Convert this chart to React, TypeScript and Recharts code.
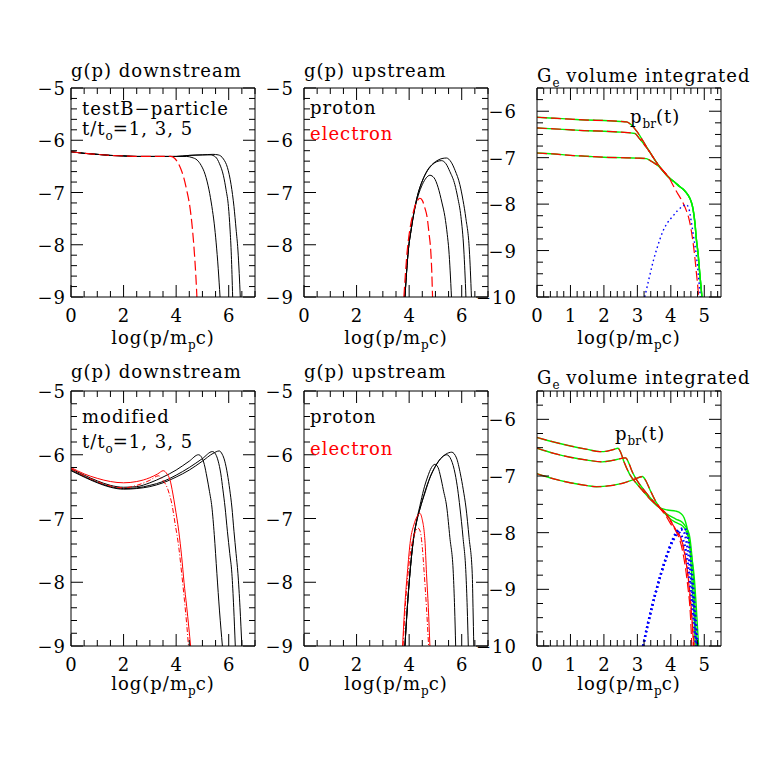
import React from 'react';
import { LineChart, Line, XAxis, YAxis } from 'recharts';

type P = [number, number];

// ---- tick values ----
const gTicksX = [0, 0.5, 1, 1.5, 2, 2.5, 3, 3.5, 4, 4.5, 5, 5.5, 6, 6.5, 7];
const gMajorX = [0, 2, 4, 6];
const gTicksY = [-9, -8.8, -8.6, -8.4, -8.2, -8, -7.8, -7.6, -7.4, -7.2, -7, -6.8, -6.6, -6.4, -6.2, -6, -5.8, -5.6, -5.4, -5.2, -5];
const gMajorY = [-9, -8, -7, -6, -5];
const eTicksX = [0, 0.2, 0.4, 0.6, 0.8, 1, 1.2, 1.4, 1.6, 1.8, 2, 2.2, 2.4, 2.6, 2.8, 3, 3.2, 3.4, 3.6, 3.8, 4, 4.2, 4.4, 4.6, 4.8, 5, 5.2, 5.4];
const eMajorX = [0, 1, 2, 3, 4, 5];
const eTicksY = [-10, -9.75, -9.5, -9.25, -9, -8.75, -8.5, -8.25, -8, -7.75, -7.5, -7.25, -7, -6.75, -6.5, -6.25, -6, -5.75, -5.5];
const eMajorY = [-10, -9, -8, -7, -6];

// ---- test-particle, downstream g(p) ----
const tpDownP1: P[] = [[0, -6.22], [0.5, -6.25], [1, -6.27], [1.5, -6.29], [2, -6.3], [2.5, -6.31], [3, -6.31], [3.5, -6.31], [4, -6.31], [4.4, -6.31], [4.6, -6.33], [4.8, -6.38], [4.95, -6.48], [5.1, -6.65], [5.25, -6.95], [5.36, -7.27], [5.45, -7.6], [5.52, -7.95], [5.6, -8.45], [5.67, -9.0]];
const tpDownP3: P[] = [[0, -6.22], [0.5, -6.25], [1, -6.27], [1.5, -6.29], [2, -6.3], [2.5, -6.31], [3, -6.31], [3.5, -6.31], [4, -6.31], [4.5, -6.29], [5, -6.28], [5.3, -6.28], [5.5, -6.32], [5.65, -6.45], [5.8, -6.68], [5.9, -6.95], [5.99, -7.27], [6.05, -7.7], [6.1, -8.2], [6.15, -9.0]];
const tpDownP5: P[] = [[0, -6.22], [0.5, -6.25], [1, -6.27], [1.5, -6.29], [2, -6.3], [2.5, -6.31], [3, -6.31], [3.5, -6.31], [4, -6.31], [4.5, -6.29], [5, -6.28], [5.4, -6.27], [5.6, -6.28], [5.8, -6.36], [5.95, -6.52], [6.09, -6.85], [6.2, -7.27], [6.28, -7.7], [6.35, -8.1], [6.4, -8.55], [6.44, -9.0]];
const tpDownE: P[] = [[0, -6.22], [0.5, -6.25], [1, -6.27], [1.5, -6.29], [2, -6.3], [2.5, -6.31], [3, -6.31], [3.5, -6.31], [3.8, -6.31], [3.95, -6.35], [4.08, -6.44], [4.18, -6.55], [4.27, -6.68], [4.4, -6.95], [4.53, -7.3], [4.62, -7.7], [4.7, -8.2], [4.75, -8.6], [4.79, -9.0]];

// ---- test-particle, upstream g(p) ----
const tpUpP1: P[] = [[3.84, -9], [3.97, -8.1], [4.08, -7.7], [4.2, -7.35], [4.35, -7.05], [4.5, -6.85], [4.65, -6.72], [4.79, -6.67], [4.95, -6.72], [5.1, -6.9], [5.25, -7.2], [5.36, -7.46], [5.45, -7.8], [5.51, -8.1], [5.56, -8.5], [5.61, -9]];
const tpUpP3: P[] = [[3.84, -9], [3.97, -8.1], [4.08, -7.7], [4.2, -7.33], [4.35, -7.0], [4.5, -6.78], [4.7, -6.58], [4.9, -6.46], [5.05, -6.41], [5.23, -6.39], [5.4, -6.45], [5.55, -6.6], [5.74, -6.85], [5.85, -7.1], [5.97, -7.46], [6.08, -8.1], [6.12, -8.5], [6.16, -9]];
const tpUpP5: P[] = [[3.84, -9], [3.97, -8.1], [4.08, -7.7], [4.2, -7.33], [4.35, -7.0], [4.5, -6.78], [4.7, -6.57], [4.9, -6.45], [5.1, -6.38], [5.25, -6.35], [5.42, -6.34], [5.6, -6.42], [5.75, -6.58], [5.93, -6.85], [6.05, -7.15], [6.16, -7.5], [6.29, -8.1], [6.33, -8.5], [6.37, -9]];
const tpUpE: P[] = [[3.8, -9], [3.93, -8.1], [4.03, -7.7], [4.12, -7.46], [4.25, -7.22], [4.35, -7.13], [4.41, -7.11], [4.5, -7.15], [4.6, -7.3], [4.68, -7.46], [4.76, -7.8], [4.82, -8.1], [4.86, -8.5], [4.89, -9]];

// ---- test-particle, volume integrated G_e ----
const tpGeA: P[] = [[0, -6.13], [0.5, -6.15], [1, -6.17], [1.5, -6.19], [2, -6.2], [2.5, -6.22], [2.68, -6.23], [2.8, -6.28], [2.98, -6.43], [3.27, -6.76], [3.66, -7.19], [3.96, -7.44], [4.1, -7.52], [4.26, -7.62], [4.4, -7.7], [4.51, -7.8], [4.6, -7.93], [4.66, -8.09], [4.72, -8.4], [4.76, -8.73], [4.82, -9.1], [4.86, -9.45], [4.93, -10]];
const tpGeB: P[] = [[0, -6.36], [0.5, -6.38], [1, -6.4], [1.5, -6.42], [2, -6.43], [2.5, -6.45], [2.93, -6.48], [3.05, -6.58], [3.27, -6.78], [3.66, -7.19], [3.96, -7.44], [4.1, -7.52], [4.26, -7.62], [4.4, -7.7], [4.51, -7.8], [4.6, -7.93], [4.66, -8.09], [4.72, -8.4], [4.76, -8.73], [4.82, -9.1], [4.86, -9.45], [4.93, -10]];
const tpGeC: P[] = [[0, -6.9], [0.5, -6.92], [1, -6.95], [1.5, -6.97], [2, -6.99], [2.5, -7.0], [3, -7.01], [3.27, -7.02], [3.4, -7.07], [3.55, -7.14], [3.66, -7.2], [3.96, -7.44], [4.1, -7.52], [4.26, -7.62], [4.4, -7.7], [4.51, -7.8], [4.6, -7.93], [4.66, -8.09], [4.72, -8.4], [4.76, -8.73], [4.82, -9.1], [4.86, -9.45], [4.93, -10]];
const tpGeRedTail: P[] = [[3.96, -7.44], [4.07, -7.6], [4.17, -7.73], [4.27, -7.85], [4.37, -7.98], [4.47, -8.15], [4.56, -8.37], [4.64, -8.7], [4.71, -9.09], [4.76, -9.45], [4.81, -9.81], [4.83, -10]];
const tpGeRedA: P[] = [[0, -6.13], [0.5, -6.15], [1, -6.17], [1.5, -6.19], [2, -6.2], [2.5, -6.22], [2.68, -6.23], [2.8, -6.28], [2.98, -6.43], [3.27, -6.76], [3.66, -7.19], [3.96, -7.44]];
const tpGeRedB: P[] = [[0, -6.36], [0.5, -6.38], [1, -6.4], [1.5, -6.42], [2, -6.43], [2.5, -6.45], [2.93, -6.48], [3.05, -6.58], [3.27, -6.78], [3.66, -7.19], [3.96, -7.44]];
const tpGeRedC: P[] = [[0, -6.9], [0.5, -6.92], [1, -6.95], [1.5, -6.97], [2, -6.99], [2.5, -7.0], [3, -7.01], [3.27, -7.02], [3.4, -7.07], [3.55, -7.14], [3.66, -7.2], [3.96, -7.44]];
const tpGeBlue: P[] = [[3.22, -10], [3.35, -9.6], [3.47, -9.24], [3.6, -8.92], [3.76, -8.59], [3.9, -8.4], [4.05, -8.27], [4.2, -8.14], [4.35, -8.05], [4.46, -8.01], [4.54, -8.1], [4.61, -8.37], [4.68, -8.7], [4.76, -9.09], [4.82, -9.5], [4.88, -10]];

// ---- modified, downstream g(p) ----
const mdDownP1: P[] = [[0, -6.22], [0.5, -6.32], [1, -6.41], [1.5, -6.48], [2, -6.51], [2.5, -6.5], [3, -6.44], [3.5, -6.35], [4, -6.24], [4.5, -6.1], [4.85, -6.0], [4.97, -6.04], [5.07, -6.15], [5.17, -6.35], [5.27, -6.58], [5.36, -6.82], [5.45, -7.25], [5.55, -7.86], [5.65, -8.45], [5.76, -9.0]];
const mdDownP3: P[] = [[0, -6.24], [0.5, -6.34], [1, -6.43], [1.5, -6.5], [2, -6.53], [2.5, -6.52], [3, -6.48], [3.5, -6.42], [4, -6.32], [4.5, -6.2], [5, -6.06], [5.38, -5.95], [5.5, -5.99], [5.6, -6.1], [5.7, -6.3], [5.78, -6.55], [5.86, -6.82], [5.95, -7.2], [6.04, -7.55], [6.12, -7.86], [6.19, -8.4], [6.25, -9.0]];
const mdDownP5: P[] = [[0, -6.25], [0.5, -6.35], [1, -6.44], [1.5, -6.51], [2, -6.54], [2.5, -6.53], [3, -6.5], [3.5, -6.44], [4, -6.35], [4.5, -6.24], [5, -6.1], [5.4, -5.98], [5.64, -5.94], [5.75, -5.99], [5.85, -6.1], [5.95, -6.3], [6.04, -6.55], [6.12, -6.82], [6.2, -7.2], [6.28, -7.55], [6.35, -7.86], [6.43, -8.4], [6.5, -9.0]];
const mdDownE: P[] = [[0, -6.2], [0.5, -6.3], [1, -6.37], [1.5, -6.42], [2, -6.44], [2.5, -6.42], [3, -6.36], [3.3, -6.3], [3.51, -6.25], [3.65, -6.3], [3.77, -6.4], [3.87, -6.6], [3.96, -6.82], [4.1, -7.2], [4.21, -7.6], [4.3, -8.0], [4.4, -8.38], [4.48, -8.7], [4.55, -9.0]];
const mdDownE2: P[] = [[0, -6.22], [0.5, -6.33], [1, -6.42], [1.5, -6.49], [2, -6.52], [2.5, -6.48], [3, -6.4], [3.33, -6.33], [3.5, -6.4], [3.69, -6.55], [3.85, -6.8], [3.96, -7.08], [4.1, -7.45], [4.21, -7.86], [4.32, -8.3], [4.4, -8.65], [4.47, -9.0]];

// ---- modified, upstream g(p) ----
const mdUpP1: P[] = [[3.84, -9], [3.93, -8.4], [4.03, -7.86], [4.16, -7.34], [4.3, -7.0], [4.41, -6.8], [4.55, -6.55], [4.7, -6.35], [4.85, -6.2], [4.98, -6.15], [5.1, -6.2], [5.2, -6.35], [5.3, -6.55], [5.43, -6.82], [5.55, -7.3], [5.68, -7.86], [5.73, -8.4], [5.77, -9]];
const mdUpP3: P[] = [[3.84, -9], [3.93, -8.4], [4.03, -7.86], [4.16, -7.34], [4.3, -7.02], [4.41, -6.85], [4.6, -6.6], [4.8, -6.35], [5, -6.18], [5.2, -6.06], [5.43, -6.0], [5.6, -6.08], [5.75, -6.3], [5.85, -6.55], [5.93, -6.82], [6.05, -7.3], [6.16, -7.86], [6.21, -8.4], [6.25, -9]];
const mdUpP5: P[] = [[3.84, -9], [3.93, -8.4], [4.03, -7.86], [4.16, -7.34], [4.3, -7.02], [4.41, -6.85], [4.6, -6.58], [4.8, -6.35], [5, -6.18], [5.2, -6.06], [5.4, -5.99], [5.62, -5.96], [5.8, -6.05], [5.95, -6.3], [6.06, -6.55], [6.16, -6.82], [6.28, -7.3], [6.4, -7.86], [6.43, -8.4], [6.46, -9]];
const mdUpE: P[] = [[3.75, -9], [3.83, -8.4], [3.93, -7.86], [4.05, -7.34], [4.18, -7.1], [4.3, -6.97], [4.41, -6.92], [4.5, -7.02], [4.57, -7.2], [4.6, -7.34], [4.66, -7.86], [4.73, -8.4], [4.79, -9]];
const mdUpE2: P[] = [[3.77, -9], [3.85, -8.4], [3.95, -7.9], [4.08, -7.45], [4.2, -7.25], [4.33, -7.15], [4.42, -7.2], [4.5, -7.45], [4.58, -7.9], [4.66, -8.4], [4.74, -9]];

// ---- modified, volume integrated G_e ----
const mdGeA: P[] = [[0, -6.32], [0.5, -6.4], [1, -6.47], [1.5, -6.53], [1.88, -6.57], [2.1, -6.56], [2.3, -6.53], [2.42, -6.51], [2.5, -6.58], [2.6, -6.75], [2.77, -6.97], [3, -7.15], [3.16, -7.26], [3.4, -7.42], [3.66, -7.56], [3.9, -7.6], [4.15, -7.62], [4.3, -7.66], [4.4, -7.74], [4.48, -7.9], [4.55, -8.15], [4.6, -8.5], [4.65, -9.03], [4.7, -9.5], [4.73, -10]];
const mdGeB: P[] = [[0, -6.51], [0.5, -6.6], [1, -6.67], [1.5, -6.72], [1.95, -6.75], [2.3, -6.72], [2.65, -6.68], [2.75, -6.78], [2.85, -6.93], [2.97, -7.06], [3.2, -7.25], [3.56, -7.5], [3.85, -7.66], [4.15, -7.76], [4.35, -7.82], [4.45, -7.9], [4.55, -8.03], [4.62, -8.35], [4.67, -8.73], [4.72, -9.3], [4.77, -10]];
const mdGeC: P[] = [[0, -6.96], [0.5, -7.05], [1, -7.12], [1.5, -7.17], [1.78, -7.19], [2.2, -7.17], [2.6, -7.12], [2.9, -7.06], [3.15, -7.01], [3.25, -7.08], [3.36, -7.22], [3.55, -7.45], [3.76, -7.62], [3.95, -7.74], [4.15, -7.82], [4.35, -7.88], [4.48, -8.0], [4.55, -8.15], [4.63, -8.45], [4.7, -8.79], [4.77, -9.4], [4.83, -10]];
const mdGeRedA: P[] = [[0, -6.32], [0.5, -6.4], [1, -6.47], [1.5, -6.53], [1.88, -6.57], [2.1, -6.56], [2.3, -6.53], [2.42, -6.51], [2.5, -6.58], [2.6, -6.75], [2.77, -6.97], [3, -7.15], [3.16, -7.26], [3.4, -7.42], [3.66, -7.56], [3.85, -7.7], [4, -7.85], [4.15, -7.97], [4.35, -8.32], [4.5, -8.91], [4.58, -9.4], [4.63, -10]];
const mdGeRedB: P[] = [[0, -6.51], [0.5, -6.6], [1, -6.67], [1.5, -6.72], [1.95, -6.75], [2.3, -6.72], [2.65, -6.68], [2.75, -6.78], [2.85, -6.93], [2.97, -7.06], [3.2, -7.25], [3.56, -7.5], [3.85, -7.66], [4, -7.8], [4.15, -7.95], [4.3, -8.1], [4.45, -8.5], [4.55, -8.95], [4.62, -9.4], [4.68, -10]];
const mdGeRedC: P[] = [[0, -6.96], [0.5, -7.05], [1, -7.12], [1.5, -7.17], [1.78, -7.19], [2.2, -7.17], [2.6, -7.12], [2.9, -7.06], [3.15, -7.01], [3.25, -7.08], [3.36, -7.22], [3.55, -7.45], [3.76, -7.62], [3.95, -7.74], [4.1, -7.9], [4.25, -8.05], [4.4, -8.3], [4.52, -8.8], [4.6, -9.3], [4.7, -10]];
const mdGeBlue1: P[] = [[3.17, -10], [3.31, -9.62], [3.56, -9.03], [3.86, -8.44], [4.06, -8.15], [4.25, -8.0], [4.35, -8.1], [4.45, -8.32], [4.6, -9.03], [4.75, -10]];
const mdGeBlue2: P[] = [[3.17, -10], [3.31, -9.62], [3.56, -9.03], [3.86, -8.44], [4.06, -8.12], [4.2, -7.97], [4.35, -7.95], [4.45, -8.1], [4.55, -8.5], [4.65, -9.1], [4.78, -10]];
const mdGeBlue3: P[] = [[3.17, -10], [3.31, -9.62], [3.56, -9.03], [3.86, -8.44], [4.06, -8.12], [4.2, -7.98], [4.4, -7.92], [4.5, -8.05], [4.6, -8.5], [4.7, -9.2], [4.8, -10]];

const FONT = '"DejaVu Serif", serif';
const FS = 18;
const pts = (a: P[]) => a.map(([x, y]) => ({ x, y }));
const fmt = (v: number) => (v < 0 ? `\u2212${Math.abs(v)}` : `${v}`);

type S = { d: P[]; c: string; w?: number; dash?: string };

const black = (d: P[]): S => ({ d, c: '#000', w: 1 });
const redDash = (d: P[]): S => ({ d, c: '#ff0000', w: 1.2, dash: '10 4' });
const redSolid = (d: P[]): S => ({ d, c: '#ff0000', w: 1 });
const redDot = (d: P[]): S => ({ d, c: '#ff0000', w: 1, dash: '5 2 1 2' });
const green = (d: P[]): S => ({ d, c: '#00ee00', w: 1.4 });
const blueDot = (d: P[], w = 1.6): S => ({ d, c: '#0000ff', w, dash: '1.6 3' });

function tickFn(side: 'b' | 't' | 'l' | 'r', majors: number[], gap = 0) {
  return (props: any) => {
    const { x, y, payload } = props;
    const v = payload.value as number;
    const big = majors.includes(v);
    const len = big ? 12 : 6;
    let line;
    if (side === 'b') line = <line x1={x} x2={x} y1={y} y2={y - len} stroke="#000" />;
    else if (side === 't') line = <line x1={x} x2={x} y1={y} y2={y + len} stroke="#000" />;
    else if (side === 'l') line = <line x1={x} x2={x + len} y1={y} y2={y} stroke="#000" />;
    else line = <line x1={x} x2={x - len} y1={y} y2={y} stroke="#000" />;
    let label = null;
    if (big && side === 'b')
      label = <text x={x} y={y + 25} textAnchor="middle" fontSize={FS} fontFamily={FONT} fill="#000">{fmt(v)}</text>;
    if (big && side === 'l')
      label = <text x={x - gap} y={y + 7} textAnchor="end" fontSize={FS} fontFamily={FONT} fill="#000" letterSpacing={1}>{fmt(v)}</text>;
    return <g>{line}{label}</g>;
  };
}

type PanelProps = {
  left: number; top: number; w: number; h: number;
  xDom: [number, number]; yDom: [number, number];
  xTicks: number[]; xMajor: number[]; yTicks: number[]; yMajor: number[];
  gap: number; series: S[];
};

function Panel({ left, top, w, h, xDom, yDom, xTicks, xMajor, yTicks, yMajor, gap, series }: PanelProps) {
  const common = { type: 'number' as const, allowDataOverflow: true, interval: 0 as const, tickLine: false, tickSize: 0, tickMargin: 0, axisLine: { stroke: '#000', strokeWidth: 1 } };
  return (
    <div style={{ position: 'absolute', left: left - 70, top: top - 40 }}>
      <LineChart width={w + 90} height={h + 100} margin={{ top: 30, right: 10, bottom: 0, left: 10 }}>
        <XAxis xAxisId="b" dataKey="x" domain={xDom} ticks={xTicks} height={60} tick={tickFn('b', xMajor)} {...common} />
        <XAxis xAxisId="t" orientation="top" dataKey="x" domain={xDom} ticks={xTicks} height={10} tick={tickFn('t', xMajor)} {...common} />
        <YAxis yAxisId="l" dataKey="y" domain={yDom} ticks={yTicks} width={60} tick={tickFn('l', yMajor, gap)} {...common} />
        <YAxis yAxisId="r" orientation="right" dataKey="y" domain={yDom} ticks={yTicks} width={10} tick={tickFn('r', yMajor)} {...common} />
        {series.map((s, i) => (
          <Line key={i} xAxisId="b" yAxisId="l" data={pts(s.d)} dataKey="y" type="monotone" stroke={s.c}
            strokeWidth={s.w ?? 1} strokeDasharray={s.dash} dot={false} activeDot={false} isAnimationActive={false} />
        ))}
      </LineChart>
    </div>
  );
}

// text with optional subscript: base, sub, rest
const T = ({ x, y, base, sub, rest, fill = '#000', anchor = 'start' }: any) => (
  <text x={x} y={y} fontSize={FS} fontFamily={FONT} fill={fill} letterSpacing={1} textAnchor={anchor}>
    {base}
    {sub ? <tspan dy={5} fontSize={12} letterSpacing={0}>{sub}</tspan> : null}
    {sub && rest ? <tspan dy={-5}>{rest}</tspan> : null}
  </text>
);
const XLab = ({ x, y }: { x: number; y: number }) => (
  <T x={x} y={y} anchor="middle" base="log(p/m" sub="p" rest="c)" />
);

export default function App() {
  const gx: [number, number] = [0, 7];
  const gy: [number, number] = [-9, -5];
  const ex: [number, number] = [0, 5.5];
  const ey: [number, number] = [-10, -5.5];
  const g = { xDom: gx, yDom: gy, xTicks: gTicksX, xMajor: gMajorX, yTicks: gTicksY, yMajor: gMajorY };
  const e = { xDom: ex, yDom: ey, xTicks: eTicksX, xMajor: eMajorX, yTicks: eTicksY, yMajor: eMajorY };
  return (
    <div style={{ position: 'absolute', left: 0, top: 0, width: 763, height: 763, background: '#fff', fontFamily: FONT }}>
      <Panel left={71} top={88} w={184} h={209} gap={5} {...g}
        series={[black(tpDownP1), black(tpDownP3), black(tpDownP5), redDash(tpDownE)]} />
      <Panel left={304} top={88} w={184} h={209} gap={10} {...g}
        series={[black(tpUpP1), black(tpUpP3), black(tpUpP5), redDash(tpUpE)]} />
      <Panel left={537} top={88} w={184} h={209} gap={20} {...e}
        series={[green(tpGeA), green(tpGeB), green(tpGeC), redDash(tpGeRedA), redDash(tpGeRedB), redDash(tpGeRedC), redDash(tpGeRedTail), blueDot(tpGeBlue, 1.4)]} />
      <Panel left={71} top={391} w={184} h={255} gap={5} {...g}
        series={[black(mdDownP1), black(mdDownP3), black(mdDownP5), redSolid(mdDownE), redDot(mdDownE2)]} />
      <Panel left={304} top={391} w={184} h={255} gap={10} {...g}
        series={[black(mdUpP1), black(mdUpP3), black(mdUpP5), redSolid(mdUpE), redDot(mdUpE2)]} />
      <Panel left={537} top={391} w={184} h={255} gap={20} {...e}
        series={[green(mdGeA), green(mdGeB), green(mdGeC), redDash(mdGeRedA), redDash(mdGeRedB), redDash(mdGeRedC), blueDot(mdGeBlue1, 2.4), blueDot(mdGeBlue2, 2.4), blueDot(mdGeBlue3, 2.4)]} />
      <svg width={763} height={763} style={{ position: 'absolute', left: 0, top: 0, pointerEvents: 'none' }}>
        <T x={71} y={77} base="g(p) downstream" />
        <T x={304} y={77} base="g(p) upstream" />
        <T x={537} y={82} base="G" sub="e" rest=" volume integrated" />
        <T x={71} y={378} base="g(p) downstream" />
        <T x={304} y={378} base="g(p) upstream" />
        <T x={537} y={384} base="G" sub="e" rest=" volume integrated" />
        <XLab x={163} y={344} />
        <XLab x={396} y={344} />
        <XLab x={629} y={344} />
        <XLab x={163} y={690} />
        <XLab x={396} y={690} />
        <XLab x={629} y={690} />
        <T x={82} y={115} base={'testB\u2212particle'} />
        <T x={82} y={135} base="t/t" sub="o" rest="=1, 3, 5" />
        <T x={310} y={114} base="proton" />
        <T x={310} y={140} base="electron" fill="#ff0000" />
        <T x={630} y={123} base="p" sub="br" rest="(t)" />
        <T x={82} y={423} base="modified" />
        <T x={82} y={448} base="t/t" sub="o" rest="=1, 3, 5" />
        <T x={310} y={423} base="proton" />
        <T x={310} y={455} base="electron" fill="#ff0000" />
        <T x={615} y={440} base="p" sub="br" rest="(t)" />
      </svg>
    </div>
  );
}
